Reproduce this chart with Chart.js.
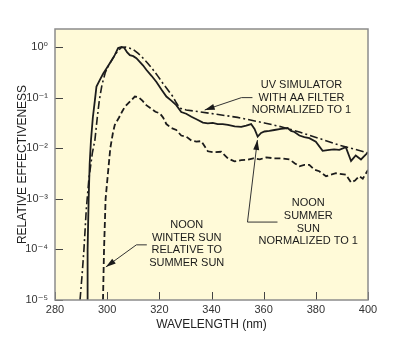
<!DOCTYPE html>
<html>
<head>
<meta charset="utf-8">
<script src="https://cdn.jsdelivr.net/npm/chart.js@4.4.1/dist/chart.umd.min.js"></script>
<style>
  html, body { margin: 0; padding: 0; background: #fff; }
  #wrap { width: 400px; height: 353px; }
</style>
</head>
<body>
<div id="wrap"><canvas id="uvChart"></canvas></div>
<script>
// noon summer sun, normalized to 1 (solid)
const summerNm = [292.3, 292.5, 292.9, 293.3, 293.8, 294.5, 295.3, 295.9, 297.2, 298.5, 299.8, 301.5, 302.9, 304.2, 305.5, 306.6, 307.6, 308.7, 310, 311.2, 312.5, 313.8, 315, 317, 318.9, 320.8, 322.7, 324.6, 326.5, 328.4, 330.3, 332.3, 334.8, 336.7, 338.6, 340.5, 342.4, 344.3, 346.3, 348.9, 351.4, 353.3, 355.2, 356.5, 357.7, 359, 360.3, 362.2, 364.1, 366.6, 369.2, 370.5, 371.8, 373.7, 375.6, 377.5, 380, 382.6, 385.2, 387, 389, 391.5, 393.5, 395.3, 397.3, 400];
const summerVal = [1e-5, 1e-4, 1e-3, 0.005, 0.0145, 0.04, 0.089, 0.166, 0.224, 0.30, 0.38, 0.525, 0.69, 0.955, 1.0, 0.955, 0.79, 0.69, 0.66, 0.60, 0.51, 0.43, 0.355, 0.27, 0.204, 0.145, 0.105, 0.087, 0.071, 0.052, 0.048, 0.042, 0.036, 0.032, 0.031, 0.0316, 0.030, 0.030, 0.029, 0.027, 0.0263, 0.028, 0.030, 0.024, 0.017, 0.020, 0.0214, 0.0219, 0.0229, 0.024, 0.0251, 0.0219, 0.0209, 0.0178, 0.0166, 0.0158, 0.0135, 0.0089, 0.0093, 0.0095, 0.0093, 0.0105, 0.0056, 0.0072, 0.006, 0.0083];

// UV simulator with AA filter, normalized to 1 (dash-dot)
const simNm = [289.6, 290.4, 291.1, 292, 293, 294.3, 295.3, 296.2, 297, 298, 299.3, 300.8, 302.5, 304, 305.5, 307, 308.5, 310, 312, 313.8, 315.7, 317.6, 319.5, 321.4, 323.3, 325.2, 326.5, 327.8, 330.3, 335.4, 342, 350, 360.3, 367, 373.7, 381, 389, 395, 400];
const simVal = [1e-5, 3.2e-5, 1e-4, 6.3e-4, 0.0025, 0.0079, 0.0145, 0.04, 0.089, 0.178, 0.316, 0.457, 0.63, 0.83, 0.977, 1.0, 0.955, 0.89, 0.74, 0.60, 0.468, 0.355, 0.263, 0.19, 0.141, 0.105, 0.079, 0.062, 0.057, 0.0525, 0.0468, 0.0407, 0.0316, 0.0263, 0.0209, 0.0158, 0.0115, 0.0095, 0.0081];

// noon winter sun relative to summer sun (dashed)
const winterNm = [298.4, 298.8, 299.4, 300.3, 301.2, 302.2, 302.9, 304.5, 305.7, 306.8, 308.7, 310.6, 312, 313.5, 315, 317, 318.5, 320.2, 321.5, 322.7, 324.6, 326.5, 328.4, 330.3, 332.3, 334.2, 336.1, 337.5, 338.6, 341, 343.7, 346.3, 348.8, 351.4, 353.9, 356, 358.5, 361, 364, 367, 369.9, 372, 373.7, 375.6, 377.5, 379.4, 381.3, 383.9, 385.8, 387.7, 391.5, 393.5, 395, 396.6, 398, 400];
const winterVal = [1e-5, 1e-4, 1e-3, 0.0032, 0.01, 0.02, 0.0288, 0.04, 0.0525, 0.066, 0.083, 0.105, 0.102, 0.087, 0.071, 0.060, 0.0525, 0.049, 0.04, 0.030, 0.0251, 0.0229, 0.0178, 0.017, 0.0141, 0.0135, 0.0138, 0.0107, 0.0087, 0.0083, 0.0085, 0.0063, 0.0055, 0.0058, 0.0059, 0.0063, 0.006, 0.0066, 0.0063, 0.0063, 0.006, 0.005, 0.0044, 0.0047, 0.0047, 0.0038, 0.0035, 0.0028, 0.003, 0.0032, 0.003, 0.0021, 0.0023, 0.0028, 0.0025, 0.0037];

const yTicks = [1e-5, 1e-4, 1e-3, 1e-2, 1e-1, 1];
const yTickLabels = ['10\u207B\u2075', '10\u207B\u2074', '10\u207B\u00B3', '10\u207B\u00B2', '10\u207B\u00B9', '10\u2070'];
const xTicks = [280, 300, 320, 340, 360, 380, 400];

// callouts, placed in data units
const callouts = [
  { lines: ['UV SIMULATOR', 'WITH AA FILTER', 'NORMALIZED TO 1'], x: 374.5, y: [0.178, 0.1, 0.0569],
    arrow: [[355.7, 0.1], [351.5, 0.1], [337.4, 0.0569]] },
  { lines: ['NOON', 'SUMMER', 'SUN', 'NORMALIZED TO 1'], x: 377.1, y: [8.3e-4, 4.6e-4, 2.5e-4, 1.48e-4],
    arrow: [[365.3, 3.47e-4], [353.8, 3.47e-4], [357.6, 0.0145]] },
  { lines: ['NOON', 'WINTER SUN', 'RELATIVE TO', 'SUMMER SUN'], x: 330.5, y: [3.0e-4, 1.7e-4, 9.8e-5, 5.4e-5],
    arrow: [[315.2, 1.23e-4], [311.2, 1.23e-4], [299.5, 4.5e-5]] }
];

function pts(xs, ys) {
  return xs.map((x, i) => ({ x: x, y: ys[i] }));
}

const ink = '#1c1c1c';

const frame = {
  id: 'frame',
  beforeDraw(chart) {
    const { ctx, chartArea: a } = chart;
    ctx.save();
    ctx.fillStyle = '#fffad8';
    ctx.fillRect(a.left, a.top, a.right - a.left, a.bottom - a.top);
    ctx.restore();
  },
  afterDraw(chart) {
    const { ctx, chartArea: a, scales } = chart;
    ctx.save();
    // inward ticks
    ctx.strokeStyle = '#444';
    ctx.lineWidth = 1;
    ctx.beginPath();
    xTicks.forEach(v => {
      const px = Math.round(scales.x.getPixelForValue(v)) + 0.5;
      ctx.moveTo(px, a.bottom);
      ctx.lineTo(px, a.bottom - 8);
    });
    yTicks.forEach(v => {
      const py = Math.round(scales.y.getPixelForValue(v)) + 0.5;
      ctx.moveTo(a.left, py);
      ctx.lineTo(a.left + 8, py);
    });
    ctx.stroke();
    // box
    ctx.strokeStyle = '#8c8c8c';
    ctx.lineWidth = 1.5;
    ctx.strokeRect(a.left, a.top, a.right - a.left, a.bottom - a.top);

    // callouts
    ctx.fillStyle = '#1a1a1a';
    ctx.font = '11px "Liberation Sans", Arial, sans-serif';
    ctx.textAlign = 'center';
    ctx.textBaseline = 'middle';
    callouts.forEach(c => {
      const tx = scales.x.getPixelForValue(c.x);
      c.lines.forEach((t, i) => ctx.fillText(t, tx, scales.y.getPixelForValue(c.y[i])));
      const p = c.arrow.map(q => [scales.x.getPixelForValue(q[0]), scales.y.getPixelForValue(q[1])]);
      ctx.strokeStyle = '#333';
      ctx.lineWidth = 1;
      ctx.beginPath();
      ctx.moveTo(p[0][0], p[0][1]);
      for (let i = 1; i < p.length; i++) ctx.lineTo(p[i][0], p[i][1]);
      ctx.stroke();
      // arrowhead
      const [x1, y1] = p[p.length - 2];
      const [x2, y2] = p[p.length - 1];
      const ang = Math.atan2(y2 - y1, x2 - x1);
      const len = 10, half = 3;
      ctx.beginPath();
      ctx.moveTo(x2, y2);
      ctx.lineTo(x2 - len * Math.cos(ang) + half * Math.sin(ang), y2 - len * Math.sin(ang) - half * Math.cos(ang));
      ctx.lineTo(x2 - len * Math.cos(ang) - half * Math.sin(ang), y2 - len * Math.sin(ang) + half * Math.cos(ang));
      ctx.closePath();
      ctx.fill();
    });
    ctx.restore();
  }
};

const config = {
  type: 'line',
  data: {
    datasets: [
      { label: 'Noon summer sun', data: pts(summerNm, summerVal), borderColor: ink, borderWidth: 1.8, pointRadius: 0, tension: 0 },
      { label: 'UV simulator', data: pts(simNm, simVal), borderColor: ink, borderWidth: 1.6, borderDash: [8, 3, 2, 3], pointRadius: 0, tension: 0 },
      { label: 'Noon winter sun', data: pts(winterNm, winterVal), borderColor: ink, borderWidth: 1.8, borderDash: [6, 3], pointRadius: 0, tension: 0 }
    ]
  },
  options: {
    responsive: true,
    maintainAspectRatio: false,
    animation: false,
    events: [],
    layout: { padding: { top: 29, right: 32, left: 0, bottom: 0 } },
    plugins: { legend: { display: false }, tooltip: { enabled: false } },
    scales: {
      x: {
        type: 'linear',
        min: 280,
        max: 400,
        afterBuildTicks: s => { s.ticks = xTicks.map(v => ({ value: v })); },
        afterFit: s => { s.height = 53; },
        grid: { display: false, drawTicks: false },
        border: { display: false },
        ticks: { padding: 3, color: '#333', font: { family: '"Liberation Sans", Arial, sans-serif', size: 11 } },
        title: { display: true, text: 'WAVELENGTH (nm)', color: '#222', padding: { top: 0, bottom: 21 },
          font: { family: '"Liberation Sans", Arial, sans-serif', size: 12 } }
      },
      y: {
        type: 'logarithmic',
        min: 1e-5,
        max: 2.27,
        afterBuildTicks: s => { s.ticks = yTicks.map(v => ({ value: v })); },
        afterFit: s => { s.width = 55; },
        grid: { display: false, drawTicks: false },
        border: { display: false },
        ticks: {
          padding: 7, color: '#333',
          font: { family: '"Liberation Sans", "DejaVu Sans", sans-serif', size: 11 },
          callback: v => yTickLabels[yTicks.findIndex(t => Math.abs(Math.log10(t) - Math.log10(v)) < 1e-6)]
        },
        title: { display: true, text: 'RELATIVE EFFECTIVENESS', color: '#222', padding: { top: 15, bottom: 0 },
          font: { family: '"Liberation Sans", Arial, sans-serif', size: 12 } }
      }
    }
  },
  plugins: [frame]
};

const uvChart = new Chart(document.getElementById('uvChart'), config);
</script>
</body>
</html>
